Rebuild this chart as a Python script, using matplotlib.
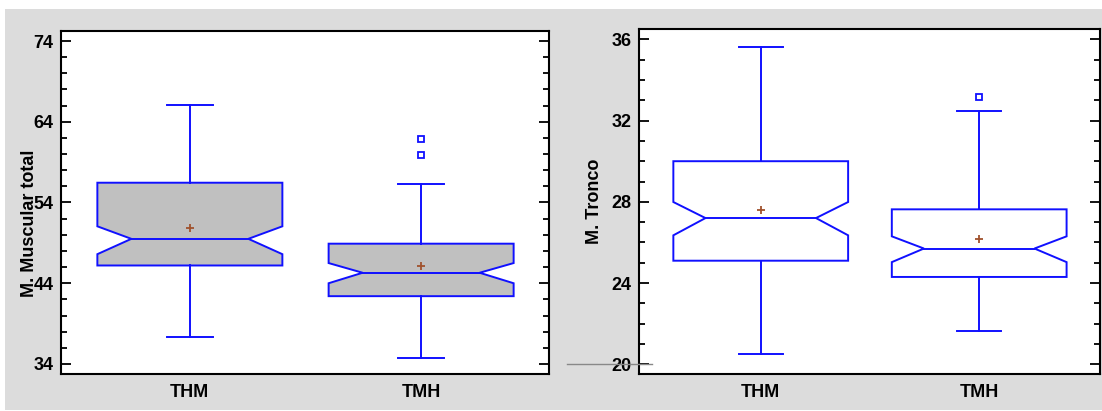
import matplotlib.pyplot as plt
from matplotlib.patches import Rectangle
from matplotlib.lines import Line2D
from matplotlib.ticker import MultipleLocator

# groups on the x axis
groups = ['THM', 'TMH']

# M. Muscular total (left panel)
mm_lo = [37.4, 34.7]
mm_q1 = [46.2, 42.4]
mm_med = [49.5, 45.3]
mm_q3 = [56.45, 48.9]
mm_hi = [66.1, 56.3]
mm_cilo = [47.6, 44.0]
mm_cihi = [51.05, 46.5]
mm_mean = [50.8, 46.1]
mm_out = [[], [59.9, 61.9]]

# M. Tronco (right panel)
tr_lo = [20.5, 21.63]
tr_q1 = [25.1, 24.3]
tr_med = [27.2, 25.7]
tr_q3 = [30.0, 27.63]
tr_hi = [35.62, 32.47]
tr_cilo = [26.35, 25.03]
tr_cihi = [27.99, 26.3]
tr_mean = [27.6, 26.16]
tr_out = [[], [33.17]]

BLUE = '#1010ff'
FONT = 'Liberation Sans'
FS = 13


def draw_box(ax, pos, lo, q1, med, q3, hi, cilo, cihi, mean, out, face):
    w, n, c = 0.4, 0.253, 0.1
    xs = [pos - w, pos + w, pos + w, pos + n, pos + w, pos + w,
          pos - w, pos - w, pos - n, pos - w]
    ys = [q1, q1, cilo, med, cihi, q3, q3, cihi, med, cilo]
    ax.fill(xs, ys, facecolor=face, edgecolor=BLUE, lw=1.4, zorder=2)
    ax.plot([pos - n, pos + n], [med, med], color=BLUE, lw=1.4, zorder=3)
    # whiskers and caps
    ax.plot([pos, pos], [q3, hi], color=BLUE, lw=1.4)
    ax.plot([pos, pos], [q1, lo], color=BLUE, lw=1.4)
    ax.plot([pos - c, pos + c], [hi, hi], color=BLUE, lw=1.4)
    ax.plot([pos - c, pos + c], [lo, lo], color=BLUE, lw=1.4)
    ax.plot(pos, mean, marker='+', color='#a0522d', ms=6, mew=1.3, zorder=4)
    if out:
        ax.plot([pos] * len(out), out, ls='none', marker='s', mfc='none',
                mec=BLUE, ms=5, mew=1.3)


def style_axis(ax, ylim, major, offset, minor, ylabel, labx, laby):
    ax.set_xlim(0.443, 2.553)
    ax.set_ylim(*ylim)
    ax.set_xticks([1, 2])
    ax.set_xticklabels(groups, fontsize=FS, fontweight='bold', family=FONT)
    ax.tick_params(axis='x', length=0, pad=7)
    ax.yaxis.set_major_locator(MultipleLocator(major, offset=offset))
    ax.yaxis.set_minor_locator(MultipleLocator(minor))
    ax.tick_params(axis='y', which='both', direction='in', left=True, right=True)
    ax.tick_params(axis='y', which='major', length=7, width=1.3, pad=5.5)
    ax.tick_params(axis='y', which='minor', length=4, width=1.3)
    for lab in ax.get_yticklabels():
        lab.set_fontweight('bold')
        lab.set_fontsize(FS)
        lab.set_family(FONT)
    ax.set_ylabel(ylabel, fontsize=FS, fontweight='bold', family=FONT)
    ax.yaxis.set_label_coords(labx, laby)
    for sp in ax.spines.values():
        sp.set_linewidth(1.5)
    ax.set_facecolor('white')


fig = plt.figure(figsize=(11.02, 4.11), dpi=100, facecolor='white')
fig.patches.append(Rectangle((0.0045, 0.0024), 0.9955, 0.9757,
                             transform=fig.transFigure, facecolor='#dcdcdc',
                             edgecolor='none', zorder=-5))

ax1 = fig.add_axes([0.0554, 0.0900, 0.4428, 0.8346])
ax2 = fig.add_axes([0.5799, 0.0900, 0.4183, 0.8394])

for i in range(2):
    draw_box(ax1, i + 1, mm_lo[i], mm_q1[i], mm_med[i], mm_q3[i], mm_hi[i],
             mm_cilo[i], mm_cihi[i], mm_mean[i], mm_out[i], '#c0c0c0')
    draw_box(ax2, i + 1, tr_lo[i], tr_q1[i], tr_med[i], tr_q3[i], tr_hi[i],
             tr_cilo[i], tr_cihi[i], tr_mean[i], tr_out[i], 'white')

style_axis(ax1, (32.76, 75.24), 10, 4, 2, 'M. Muscular total', -0.047, 0.44)
style_axis(ax2, (19.52, 36.51), 4, 0, 1, 'M. Tronco', -0.078, 0.5)

# stray grey line next to the right panel
fig.lines.append(Line2D([567 / 1102, 652 / 1102], [1 - 364 / 411, 1 - 364 / 411],
                        transform=fig.transFigure, color='#888888', lw=1,
                        zorder=5))

fig.savefig('out.png', dpi=100, facecolor='white')
